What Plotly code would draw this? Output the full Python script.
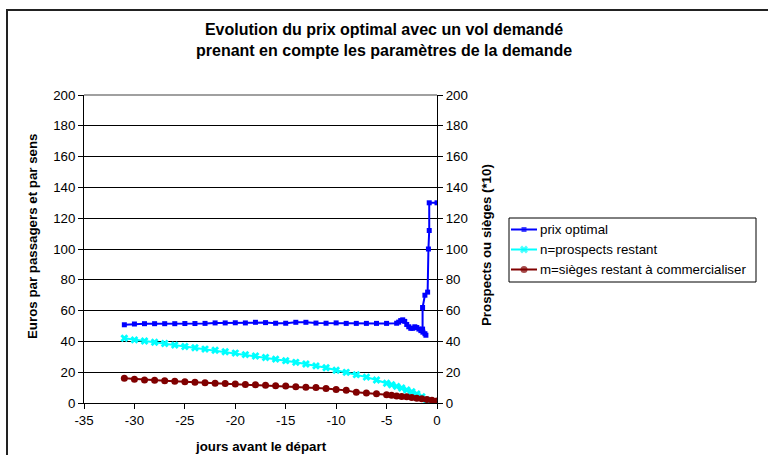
import plotly.graph_objects as go

# ---- data ----
price_days = [-31, -30, -29, -28, -27, -26, -25, -24, -23, -22, -21, -20, -19, -18,
              -17, -16, -15, -14, -13, -12, -11, -10, -9, -8, -7, -6, -5, -4,
              -3.8, -3.6, -3.4, -3.2, -3.0, -2.8, -2.6, -2.4, -2.2, -2.0, -1.8,
              -1.6, -1.4, -1.2, -1.1, -1.43, -1.43, -1.2, -0.93, -0.85, -0.77,
              -0.77, 0]
price = [50.8, 51.3, 51.5, 51.5, 51.5, 51.5, 51.6, 51.6, 51.7, 52.0, 52.0, 52.1,
         52.0, 52.4, 52.2, 51.8, 51.8, 52.4, 52.4, 51.9, 51.8, 52.0, 51.7, 51.7,
         51.7, 51.7, 51.7, 51.8,
         52.5, 53.5, 54.0, 53.0, 51.0, 49.5, 48.5, 48.5, 49.5, 49.0, 48.0,
         47.0, 46.0, 45.0, 44.0, 48.0, 62.0, 70.0, 72.0, 100.0, 112.0,
         130.0, 130.0]

prospect_days = [-31, -30, -29, -28, -27, -26, -25, -24, -23, -22, -21, -20, -19,
                 -18, -17, -16, -15, -14, -13, -12, -11, -10, -9, -8, -7, -6, -5,
                 -4.5, -4, -3.5, -3, -2.5, -2, -1.5, -1, -0.75, -0.5]
prospects = [42.0, 41.0, 40.3, 39.5, 38.6, 37.6, 36.7, 35.9, 35.0, 34.2, 33.3,
             32.4, 31.4, 30.5, 29.5, 28.5, 27.5, 26.4, 25.3, 24.1, 22.9, 21.3,
             19.9, 18.4, 16.8, 14.9, 12.8, 11.8, 10.8, 9.7, 8.5, 7.3, 5.8, 4.1,
             1.8, 0.9, 0.3]

seat_days = [-31, -30, -29, -28, -27, -26, -25, -24, -23, -22, -21, -20, -19, -18,
             -17, -16, -15, -14, -13, -12, -11, -10, -9, -8, -7, -6, -5, -4.5,
             -4, -3.5, -3, -2.5, -2, -1.5, -1, -0.5, 0]
seats = [16.0, 15.5, 15.0, 14.7, 14.4, 14.1, 13.8, 13.5, 13.2, 12.9, 12.6, 12.3,
         12.0, 11.8, 11.5, 11.2, 11.0, 10.6, 10.3, 10.0, 9.4, 8.8, 8.2, 6.9,
         6.5, 6.0, 5.3, 5.0, 4.6, 4.3, 4.0, 3.6, 3.1, 2.8, 2.3, 1.8, 1.3]

series_names = ["prix optimal", "n=prospects restant",
                "m=sièges restant à commercialiser"]

y_ticks = [0, 20, 40, 60, 80, 100, 120, 140, 160, 180, 200]
x_ticks = [-35, -30, -25, -20, -15, -10, -5, 0]
x_tick_labels = ["-35", "-30", "-25", "-20", "-15", "-10", "-5", "0"]

FONT = "Arial, Liberation Sans, sans-serif"
FS = 13.3

# ---- styles ----
colors = ["#0000ff", "#00ffff", "#800000"]
symbols = ["square", "x", "circle"]
msizes = [5, 7, 7]

# pixel geometry
W, H = 768, 455
L, PR, T, B = 84, 760, 95, 403     # paper box
PLOT_R = 437                         # right edge of the plot area
pw, ph = PR - L, B - T

def px(x):
    return (x - L) / pw

def py(y):
    return (B - y) / ph

fig = go.Figure()
data_sets = [(price_days, price, "y"), (prospect_days, prospects, "y2"),
             (seat_days, seats, "y2")]
for (xs, ys, ya), name, c, s, ms in zip(data_sets, series_names, colors, symbols, msizes):
    fig.add_trace(go.Scatter(x=xs, y=ys, mode="lines+markers", name=name,
                             yaxis=ya, showlegend=False,
                             line=dict(color=c, width=2),
                             marker=dict(symbol=s, size=ms, color=c,
                                         line=dict(width=0))))

# ---- custom legend (keys drawn on a hidden pixel-scaled axis) ----
LEG_X0, LEG_X1, LEG_Y0, LEG_Y1 = 509, 756, 218, 282
row_y = [229.5, 249.5, 269.5]
for i, (name, c, s, ms) in enumerate(zip(series_names, colors, symbols, msizes)):
    fig.add_trace(go.Scatter(x=[511, 524, 537], y=[row_y[i]] * 3,
                             xaxis="x3", yaxis="y3", mode="lines+markers",
                             showlegend=False, hoverinfo="skip",
                             line=dict(color=c, width=2),
                             marker=dict(symbol=s, size=[0, ms, 0], color=c,
                                         line=dict(width=0))))

axis_common = dict(linecolor="black", linewidth=1, ticks="outside", ticklen=5,
                   tickcolor="black", tickfont=dict(family=FONT, size=FS, color="black"),
                   zeroline=False)

annotations = [
    dict(text="<b>Evolution du prix optimal avec un vol demandé<br>"
              "prenant en compte les paramètres de la demande</b>",
         xref="paper", yref="paper", x=px(384), y=py(40),
         xanchor="center", yanchor="middle", showarrow=False,
         font=dict(family=FONT, size=16, color="black")),
    dict(text="<b>Euros par passagers et par sens</b>", textangle=-90,
         xref="paper", yref="paper", x=px(32), y=py(237),
         xanchor="center", yanchor="middle", showarrow=False,
         font=dict(family=FONT, size=FS, color="black")),
    dict(text="<b>Prospects ou sièges (*10)</b>", textangle=-90,
         xref="paper", yref="paper", x=px(486), y=py(245),
         xanchor="center", yanchor="middle", showarrow=False,
         font=dict(family=FONT, size=FS, color="black")),
    dict(text="<b>jours avant le départ</b>",
         xref="paper", yref="paper", x=px(261), y=py(446),
         xanchor="center", yanchor="middle", showarrow=False,
         font=dict(family=FONT, size=FS, color="black")),
]
for i, name in enumerate(series_names):
    annotations.append(dict(text=name, xref="paper", yref="paper",
                            x=px(538), y=py(row_y[i]), xanchor="left",
                            yanchor="middle", showarrow=False,
                            font=dict(family=FONT, size=FS, color="black")))

fig.update_layout(
    width=W, height=H,
    margin=dict(l=L, r=W - PR, t=T, b=H - B, autoexpand=False),
    paper_bgcolor="white", plot_bgcolor="rgba(0,0,0,0)",
    font=dict(family=FONT, color="black"),
    showlegend=False,
    xaxis=dict(domain=[0, px(PLOT_R)], range=[-35, 0], tickvals=x_ticks,
               ticktext=x_tick_labels, showgrid=False, showline=True,
               **axis_common),
    yaxis=dict(range=[0, 200], tickvals=y_ticks, showgrid=True, gridcolor="black",
               gridwidth=1, showline=True, **axis_common),
    yaxis2=dict(range=[0, 200], tickvals=y_ticks, overlaying="y", side="right",
                anchor="x", showgrid=False, showline=True, **axis_common),
    xaxis3=dict(domain=[px(LEG_X0), px(LEG_X1)], range=[LEG_X0, LEG_X1],
                visible=False, anchor="y3"),
    yaxis3=dict(domain=[py(LEG_Y1), py(LEG_Y0)], range=[LEG_Y1, LEG_Y0],
                visible=False, anchor="x3"),
    annotations=annotations,
    shapes=[
        dict(type="line", xref="paper", yref="paper", x0=0, x1=px(PLOT_R),
             y0=1, y1=1, line=dict(color="#808080", width=1.5), layer="above"),
        dict(type="rect", xref="paper", yref="paper", x0=px(LEG_X0), x1=px(LEG_X1),
             y0=py(LEG_Y1), y1=py(LEG_Y0), line=dict(color="black", width=1),
             fillcolor="white", layer="below"),
        dict(type="rect", xref="paper", yref="paper", x0=px(7), x1=px(800),
             y0=py(10), y1=py(480), line=dict(color="#222222", width=2),
             fillcolor="rgba(0,0,0,0)"),
    ],
)

fig.write_html("out.html")
